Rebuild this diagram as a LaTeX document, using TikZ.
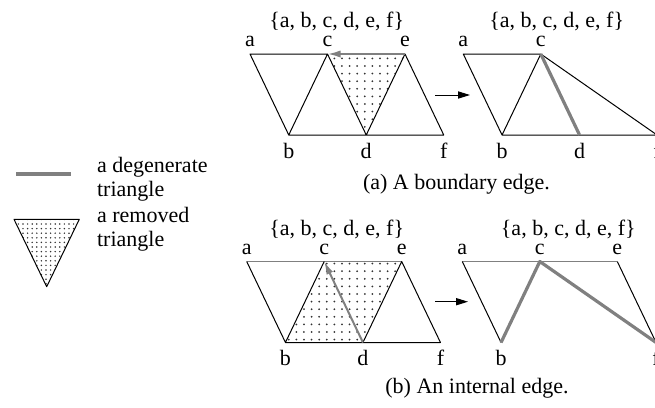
\documentclass[tikz,border=0pt]{standalone}
\usepackage{fontspec}
\setmainfont{Liberation Serif}
\usetikzlibrary{
  arrows.meta,
  patterns.meta
}
\definecolor{degGray}{HTML}{808080}
\definecolor{dotGray}{HTML}{333333}
\tikzset{
  edge/.style     = {line width=0.5pt, draw=black, line join=round},
  degen/.style    = {line width=1.6pt, draw=degGray, line join=round},
  rim/.style      = {line width=0.9pt, draw=degGray},
  moved/.style    = {-{Latex[length=6.5pt, width=3.6pt]}, line width=1pt,
                     draw=degGray, fill=degGray},
  flow/.style     = {-{Triangle[length=6pt, width=3.6pt]}, line width=0.5pt},
  removed/.style  = {pattern={Dots[distance=3.8pt, radius=0.5pt]},
                     pattern color=dotGray},
  removedLeg/.style = {pattern={Dots[distance=2.3pt, radius=0.42pt]},
                     pattern color=dotGray},
  vlbl/.style     = {font=\fontsize{11}{11.85}\selectfont, inner sep=0pt,
                     anchor=base},
  toplbl/.style   = {vlbl, yshift=3.7pt},
  botlbl/.style   = {vlbl, yshift=-11.5pt},
  legtxt/.style   = {font=\fontsize{11}{11.85}\selectfont, inner sep=0pt,
                     align=left, anchor=base west}
}
\begin{document}
\begin{tikzpicture}[x=0.5pt, y=-0.5pt]
\useasboundingbox (0,0) rectangle (655,408);
% Vertex lattice of the four panels (a, c, e on top; b, d, f below)
\foreach \p/\ox/\oy in {la/250/54, ra/463.3/54, lb/246.7/261.5, rb/462.3/261.5}{
  \coordinate (\p-a) at (\ox, \oy);
  \coordinate (\p-c) at (\ox+77.5, \oy);
  \coordinate (\p-e) at (\ox+155, \oy);
  \coordinate (\p-b) at (\ox+38.75, \oy+81);
  \coordinate (\p-d) at (\ox+116.25, \oy+81);
  \coordinate (\p-f) at (\ox+193.75, \oy+81);
}
% Removed triangles
\fill[removed] (la-c) -- (la-e) -- (la-d) -- cycle;
\fill[removed] (lb-b) -- (lb-c) -- (lb-e) -- (lb-d) -- cycle;
% (a) boundary edge: before and after
\draw[edge] (la-b) -- (la-a) -- (la-c) -- (la-b) -- (la-f) -- (la-e) -- (la-d) -- (la-c);
\draw[moved] (la-e) -- (la-c);
\draw[edge] (ra-b) -- (ra-a) -- (ra-c) -- (ra-b) -- (ra-f) -- (ra-c);
\draw[degen] (ra-c) -- (ra-d);
% (b) internal edge: before and after
\draw[rim] (lb-a) -- (lb-e);
\draw[edge] (lb-a) -- (lb-b) -- (lb-c);
\draw[edge] (lb-b) -- (lb-f) -- (lb-e) -- (lb-d);
\draw[moved] (lb-d) -- (lb-c);
\draw[rim] (rb-a) -- (rb-e);
\draw[edge] (rb-a) -- (rb-b);
\draw[edge] (rb-e) -- (rb-f);
\draw[degen] (rb-b) -- (rb-c) -- (rb-f);
% Vertex names
\foreach \p/\tops/\bots in {la/{a,c,e}/{b,d,f}, ra/{a,c}/{b,d,f},
                             lb/{a,c,e}/{b,d,f}, rb/{a,c,e}/{b,f}}{
  \foreach \v in \tops { \node[toplbl] (\p-\v-lbl) at (\p-\v) {\v}; }
  \foreach \v in \bots { \node[botlbl] (\p-\v-lbl) at (\p-\v) {\v}; }
}
% Vertex sets
\node[vlbl] (la-set) at (336.7, 27) {\{a, b, c, d, e, f\}};
\node[vlbl] (ra-set) at (556.7, 27) {\{a, b, c, d, e, f\}};
\node[vlbl] (lb-set) at (336.7, 235.5) {\{a, b, c, d, e, f\}};
\node[vlbl] (rb-set) at (568.3, 235.5) {\{a, b, c, d, e, f\}};
% Arrows between the panels
\coordinate (go-a-s) at (435, 95);
\coordinate (go-a-t) at (470, 95);
\coordinate (go-b-s) at (435, 301.7);
\coordinate (go-b-t) at (468, 301.7);
\draw[flow] (go-a-s) -- (go-a-t);
\draw[flow] (go-b-s) -- (go-b-t);
% Captions
\node[vlbl] (cap-a) at (456.5, 189) {(a) A boundary edge.};
\node[vlbl] (cap-b) at (477, 393) {(b) An internal edge.};
% Legend
\coordinate (leg-l) at (16, 174);
\coordinate (leg-r) at (70.7, 174);
\draw[draw=degGray, line width=2pt] (leg-l) -- (leg-r);
\node[legtxt] (leg-deg) at (96.7, 196) {a degenerate\\triangle};
\coordinate (tri-l) at (14, 219.3);
\coordinate (tri-r) at (79.3, 219.3);
\coordinate (tri-b) at (46.7, 286.7);
\fill[removedLeg] (tri-l) -- (tri-r) -- (tri-b) -- cycle;
\draw[edge] (tri-l) -- (tri-r) -- (tri-b) -- cycle;
\node[legtxt] (leg-rem) at (96.7, 246.5) {a removed\\triangle};
\end{tikzpicture}
\end{document}
